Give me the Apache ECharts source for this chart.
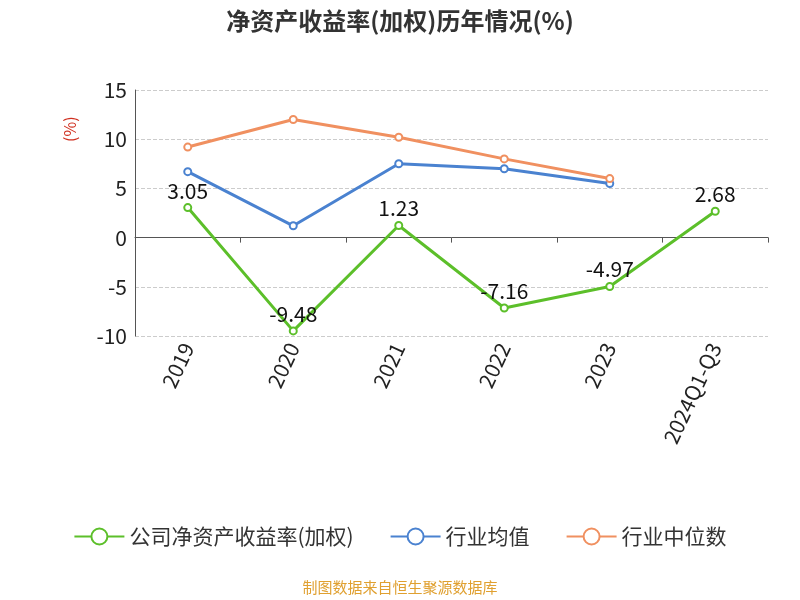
<!DOCTYPE html>
<html><head><meta charset="utf-8">
<script src="https://cdn.jsdelivr.net/npm/echarts@6/dist/echarts.min.js"></script>
<style>html,body{margin:0;padding:0;background:#fff}#main{width:800px;height:600px}</style>
</head><body><div id="main"></div>
<script>
var years = ['2019', '2020', '2021', '2022', '2023', '2024Q1-Q3'];
var companyRoe = [3.05, -9.48, 1.23, -7.16, -4.97, 2.68];
var industryAvg = [6.7, 1.2, 7.5, 7.0, 5.5, null];
var industryMedian = [9.2, 12.0, 10.2, 8.0, 6.0, null];

var myChart = echarts.init(document.getElementById('main'));
var font = '"Noto Sans CJK SC", sans-serif';
function lineSeries(name, data, color) {
    return {
        name: name, type: 'line', data: data,
        symbol: 'circle', symbolSize: 7,
        lineStyle: { width: 3, color: color },
        itemStyle: { color: '#fff', borderColor: color, borderWidth: 2 }
    };
}
var s1 = lineSeries('公司净资产收益率(加权)', companyRoe, '#5cbf2a');
s1.z = 3;
s1.label = { show: true, fontSize: 21, color: '#111', fontFamily: font, distance: 2,
             formatter: function (p) { return p.value.toFixed(2); } };
option = {
    title: {
        text: '净资产收益率(加权)历年情况(%)',
        left: 'center', top: 4,
        textStyle: { fontSize: 24, fontWeight: 'bold', color: '#333', fontFamily: font }
    },
    graphic: [{
        type: 'text', left: 'center', top: 580,
        style: { text: '制图数据来自恒生聚源数据库', fill: '#e0a030', font: '15px ' + font }
    }],
    legend: {
        bottom: 48, itemGap: 36, itemWidth: 50, itemHeight: 20,
        textStyle: { fontSize: 21, color: '#333', fontFamily: font },
        data: ['公司净资产收益率(加权)', '行业均值', '行业中位数']
    },
    grid: { left: 135, right: 32, top: 90, bottom: 264 },
    xAxis: {
        type: 'category', data: years, boundaryGap: true,
        axisLine: { onZero: true, lineStyle: { color: '#555' } },
        axisTick: { show: true, lineStyle: { color: '#555' } },
        axisLabel: { rotate: 65, fontSize: 21, color: '#222', margin: 8, fontFamily: font }
    },
    yAxis: {
        type: 'value', min: -10, max: 15, interval: 5,
        name: '(%)', nameLocation: 'end', nameRotate: 90, nameGap: 0,
        nameTextStyle: { color: '#d03020', fontSize: 16, padding: [0, 0, 0, 0], fontFamily: font },
        axisLine: { show: true, lineStyle: { color: '#555' } },
        axisTick: { show: false },
        axisLabel: { fontSize: 21, color: '#222', fontFamily: font },
        splitLine: { lineStyle: { type: 'dashed', color: '#ccc' } }
    },
    series: [s1,
        lineSeries('行业均值', industryAvg, '#4a82d0'),
        lineSeries('行业中位数', industryMedian, '#f09060')]
};
if (option && typeof option === "object") {
    myChart.setOption(option, true);
}
myChart.setOption({ yAxis: { name: '' }, graphic: [option.graphic[0], {
    type: 'text', x: 62, y: 142, rotation: Math.PI / 2,
    style: { text: '(%)', fill: '#d03020', font: '16px ' + font }
}] });
</script></body></html>
